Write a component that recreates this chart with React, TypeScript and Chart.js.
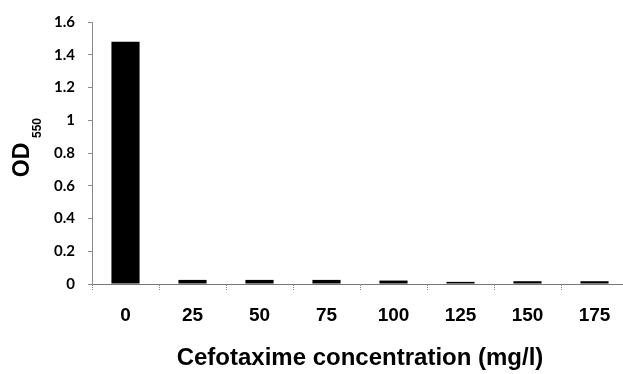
import React, { useEffect, useRef } from "react";
import { Chart, registerables } from "chart.js";

Chart.register(...registerables);

const categories = ["0", "25", "50", "75", "100", "125", "150", "175"];
const odValues = [1.48, 0.025, 0.025, 0.025, 0.021, 0.013, 0.017, 0.017];
const yTickMax = 1.6;
const yTickStep = 0.2;
const xTitle = "Cefotaxime concentration (mg/l)";
const yTitleMain = "OD";
const yTitleSub = "550";

const axisGray = "#8a8a8a";

const yTitlePlugin = {
  id: "yTitleSub",
  afterDraw(chart: any) {
    const ctx = chart.ctx;
    ctx.save();
    ctx.fillStyle = "#000";
    ctx.translate(23, 160);
    ctx.rotate(-Math.PI / 2);
    ctx.textAlign = "center";
    ctx.textBaseline = "middle";
    ctx.font = "bold 23px 'Liberation Sans', Arial, sans-serif";
    ctx.fillText(yTitleMain, 0, 0);
    ctx.font = "bold 12px 'Liberation Sans', Arial, sans-serif";
    ctx.fillText(yTitleSub, 32, 15);
    ctx.restore();
  },
};

export default function App() {
  const ref = useRef<HTMLCanvasElement | null>(null);
  useEffect(() => {
    document.body.style.margin = "0";
    document.body.style.overflow = "hidden";
    const canvas = ref.current!;
    const chart = new Chart(canvas, {
      type: "bar",
      data: {
        labels: categories,
        datasets: [
          {
            data: odValues,
            backgroundColor: "#000",
            borderColor: "#000",
            borderWidth: 0,
            barPercentage: 0.42,
            categoryPercentage: 1,
          },
        ],
      },
      plugins: [yTitlePlugin],
      options: {
        animation: false,
        responsive: false,
        devicePixelRatio: 1,
        layout: { padding: { top: 18, right: 12, left: 0, bottom: 0 } },
        plugins: { legend: { display: false }, tooltip: { enabled: false } },
        scales: {
          x: {
            afterFit: (s: any) => {
              s.height = 90;
            },
            grid: {
              drawOnChartArea: false,
              drawTicks: true,
              tickLength: 6,
              color: axisGray,
              tickBorderDash: [1, 1],
              offset: true,
            },
            border: { display: true, color: "#777", dash: [2, 3], width: 1 },
            ticks: {
              color: "#000",
              padding: 14,
              font: { family: "'Liberation Sans', Arial, sans-serif", size: 19, weight: "bold" },
            },
            title: {
              display: true,
              text: xTitle,
              color: "#000",
              padding: { top: 0, bottom: 1 },
              font: { family: "'Liberation Sans', Arial, sans-serif", size: 24, weight: "bold" },
            },
          },
          y: {
            min: 0,
            max: yTickMax,
            afterFit: (s: any) => {
              s.width = 92;
            },
            grid: {
              drawOnChartArea: false,
              drawTicks: true,
              tickLength: 4,
              color: axisGray,
            },
            border: { display: true, color: axisGray, dash: [1, 2], width: 1 },
            ticks: {
              stepSize: yTickStep,
              color: "#000",
              padding: 13,
              callback: (v: any) => String(Number(Number(v).toFixed(1))),
              font: { family: "Lato, 'Open Sans', sans-serif", size: 15, weight: "bold" },
            },
          },
        },
      },
    } as any);
    return () => chart.destroy();
  }, []);
  return (
    <div style={{ position: "fixed", left: 0, top: 0, width: 623, height: 374, overflow: "hidden", background: "#fff" }}>
      <canvas ref={ref} width={640} height={374} style={{ width: 640, height: 374, display: "block" }} />
    </div>
  );
}
